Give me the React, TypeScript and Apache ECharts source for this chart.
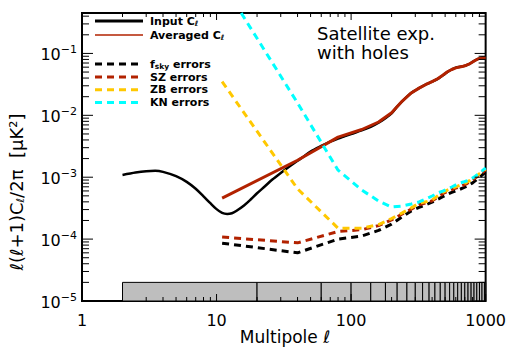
import React, { useEffect, useRef } from "react";
import * as echarts from "echarts";

// ---------------- data ----------------
const inputEll = [2, 2.5, 3, 3.5, 4, 5, 6, 7, 8, 9, 10, 11, 12, 13, 14, 16, 18, 20, 23, 26, 30, 35, 40, 45, 50, 60, 70, 80, 90, 100, 120, 140, 160, 180, 200, 220, 250, 280, 320, 360, 400, 450, 500, 550, 600, 650, 700, 750, 800, 850, 900, 950, 1000];
const inputCl = [1.09e-3, 1.19e-3, 1.25e-3, 1.27e-3, 1.22e-3, 1.04e-3, 8.4e-4, 6.5e-4, 4.9e-4, 3.8e-4, 3.05e-4, 2.65e-4, 2.55e-4, 2.62e-4, 2.85e-4, 3.5e-4, 4.4e-4, 5.5e-4, 7.2e-4, 9.2e-4, 1.17e-3, 1.5e-3, 1.85e-3, 2.2e-3, 2.6e-3, 3.2e-3, 3.75e-3, 4.2e-3, 4.6e-3, 5.0e-3, 5.7e-3, 6.5e-3, 7.6e-3, 9.0e-3, 1.08e-2, 1.38e-2, 1.85e-2, 2.3e-2, 2.75e-2, 3.15e-2, 3.5e-2, 4.0e-2, 4.7e-2, 5.4e-2, 5.9e-2, 6.1e-2, 6.3e-2, 6.7e-2, 7.3e-2, 7.9e-2, 8.3e-2, 8.6e-2, 8.5e-2];

const binCenters = [11, 40, 80, 120, 160, 200, 240, 280, 320, 360, 400, 440, 480, 520, 560, 600, 640, 680, 720, 760, 800, 840, 880, 920, 960, 1000];
const averagedCl = [4.6e-4, 1.88e-3, 4.45e-3, 5.9e-3, 7.8e-3, 1.1e-2, 1.7e-2, 2.3e-2, 2.75e-2, 3.15e-2, 3.5e-2, 3.9e-2, 4.45e-2, 5.05e-2, 5.5e-2, 5.85e-2, 6.05e-2, 6.2e-2, 6.45e-2, 6.8e-2, 7.25e-2, 7.75e-2, 8.15e-2, 8.4e-2, 8.5e-2, 8.45e-2];
const fskyErr = [8.6e-5, 6.0e-5, 1.0e-4, 1.12e-4, 1.38e-4, 1.75e-4, 2.3e-4, 2.85e-4, 3.25e-4, 3.6e-4, 3.95e-4, 4.4e-4, 4.85e-4, 5.3e-4, 5.7e-4, 6.0e-4, 6.35e-4, 6.7e-4, 7.1e-4, 7.6e-4, 8.1e-4, 8.8e-4, 9.6e-4, 1.04e-3, 1.12e-3, 1.22e-3];
const szErr = [1.08e-4, 8.7e-5, 1.33e-4, 1.42e-4, 1.65e-4, 2.05e-4, 2.55e-4, 3.05e-4, 3.6e-4, 3.85e-4, 4.15e-4, 4.75e-4, 5.4e-4, 5.9e-4, 6.3e-4, 6.65e-4, 7.0e-4, 7.4e-4, 7.8e-4, 8.4e-4, 9.1e-4, 9.8e-4, 1.05e-3, 1.13e-3, 1.22e-3, 1.32e-3];
const zbErr = [3.5e-2, 6.5e-4, 1.5e-4, 1.5e-4, 1.72e-4, 2.15e-4, 2.65e-4, 3.2e-4, 3.8e-4, 4.0e-4, 4.3e-4, 5.0e-4, 5.7e-4, 6.2e-4, 6.6e-4, 7.0e-4, 7.4e-4, 7.8e-4, 8.2e-4, 8.8e-4, 9.6e-4, 1.03e-3, 1.1e-3, 1.18e-3, 1.27e-3, 1.36e-3];
const knErr = [1.4, 1.58e-2, 1.3e-3, 6.2e-4, 4.13e-4, 3.3e-4, 3.43e-4, 3.69e-4, 3.98e-4, 4.45e-4, 4.97e-4, 5.56e-4, 5.98e-4, 6.45e-4, 6.95e-4, 7.5e-4, 8.05e-4, 8.35e-4, 8.7e-4, 9.0e-4, 9.7e-4, 1.04e-3, 1.13e-3, 1.21e-3, 1.31e-3, 1.41e-3];

const binEdges = [2, 20, 60, 100, 140, 180, 220, 260, 300, 340, 380, 420, 460, 500, 540, 580, 620, 660, 700, 740, 780, 820, 860, 900, 940, 980, 1000];
const maskBandLow = 1e-5;
const maskBandHigh = 2e-5;

const xMajorTicks = [1, 10, 100, 1000];
const xMinorTicks = [2, 3, 4, 5, 6, 7, 8, 9, 20, 30, 40, 50, 60, 70, 80, 90, 200, 300, 400, 500, 600, 700, 800, 900];
const yMajorTicks = [1e-5, 1e-4, 1e-3, 1e-2, 1e-1];
const yMinorTicks = [
  2e-5, 3e-5, 4e-5, 5e-5, 6e-5, 7e-5, 8e-5, 9e-5,
  2e-4, 3e-4, 4e-4, 5e-4, 6e-4, 7e-4, 8e-4, 9e-4,
  2e-3, 3e-3, 4e-3, 5e-3, 6e-3, 7e-3, 8e-3, 9e-3,
  2e-2, 3e-2, 4e-2, 5e-2, 6e-2, 7e-2, 8e-2, 9e-2,
  2e-1, 3e-1, 4e-1,
];
const xTickLabels = ["1", "10", "100", "1000"];

const RED = "#b22200";
const YEL = "#ffc800";
const CYA = "#00ffff";
const FONT = "DejaVu Sans";

function zip(xs: number[], ys: number[]) {
  return xs.map((x, i) => [x, ys[i]]);
}

export default function App() {
  const ref = useRef<HTMLDivElement>(null);
  useEffect(() => {
    if (!ref.current) return;
    const chart = echarts.init(ref.current, null, { renderer: "svg" });

    const dashed = (name: string, data: number[], color: string, z: number) => ({
      name,
      type: "line",
      data: zip(binCenters, data),
      showSymbol: false,
      symbol: "none",
      z,
      lineStyle: { color, width: 3, type: [7, 5] },
    });

    const tickRenderX = (params: any, api: any) => {
      const v = api.value(0);
      const major = api.value(2);
      const p = api.coord([v, 1e-3]);
      const cs = params.coordSys;
      const len = major ? 7 : 4;
      const b = cs.y + cs.height;
      return {
        type: "group",
        children: [
          { type: "line", shape: { x1: p[0], y1: b, x2: p[0], y2: b - len }, style: { stroke: "#000", lineWidth: 1 } },
          { type: "line", shape: { x1: p[0], y1: cs.y, x2: p[0], y2: cs.y + len }, style: { stroke: "#000", lineWidth: 1 } },
        ],
      };
    };
    const tickRenderY = (params: any, api: any) => {
      const v = api.value(1);
      const major = api.value(2);
      const p = api.coord([10, v]);
      const cs = params.coordSys;
      const len = major ? 11 : 7;
      const r = cs.x + cs.width;
      return {
        type: "group",
        children: [
          { type: "line", shape: { x1: cs.x, y1: p[1], x2: cs.x + len, y2: p[1] }, style: { stroke: "#000", lineWidth: 1 } },
          { type: "line", shape: { x1: r, y1: p[1], x2: r - len, y2: p[1] }, style: { stroke: "#000", lineWidth: 1 } },
        ],
      };
    };

    const xTickData = [...xMajorTicks.map((v) => [v, 1e-3, 1]), ...xMinorTicks.map((v) => [v, 1e-3, 0])];
    const yTickData = [...yMajorTicks.map((v) => [10, v, 1]), ...yMinorTicks.map((v) => [10, v, 0])];
    const binData = binEdges.slice(0, -1).map((lo, i) => [lo, binEdges[i + 1], maskBandLow, maskBandHigh]);

    const legendItems = [
      { y: 21, color: "#000", width: 3, dash: null as any, rich: "{a|Input C}{s|ℓ}" },
      { y: 35, color: RED, width: 1.5, dash: null as any, rich: "{a|Averaged C}{s|ℓ}" },
      { y: 64, color: "#000", width: 3, dash: [7, 5], rich: "{a|f}{s|sky}{a| errors}" },
      { y: 77, color: RED, width: 3, dash: [7, 5], rich: "{a|SZ errors}" },
      { y: 89.8, color: YEL, width: 3, dash: [7, 5], rich: "{a|ZB errors}" },
      { y: 102.6, color: CYA, width: 3, dash: [7, 5], rich: "{a|KN errors}" },
    ];
    const legendRich = {
      a: { fontSize: 11, lineHeight: 11, fontWeight: "bold", fontFamily: FONT, color: "#000" },
      s: { fontSize: 7.5, lineHeight: 8, fontWeight: "bold", fontFamily: FONT, color: "#000", padding: [5, 0, 0, 0] },
    };

    const graphic: any[] = [];
    legendItems.forEach((it) => {
      graphic.push({
        type: "line",
        z: 100,
        shape: { x1: 95, y1: it.y, x2: 143, y2: it.y },
        style: { stroke: it.color, lineWidth: it.width, lineDash: it.dash || undefined },
      });
      graphic.push({
        type: "text",
        z: 100,
        x: 150,
        y: it.y,
        style: { text: it.rich, rich: legendRich, verticalAlign: "middle", textVerticalAlign: "middle", fill: "#000" },
      });
    });
    graphic.push({
      type: "text",
      x: 317,
      y: 33,
      style: { text: "Satellite exp.", fontSize: 18, fontFamily: FONT, fill: "#000", verticalAlign: "middle", textVerticalAlign: "middle" },
    });
    graphic.push({
      type: "text",
      x: 317,
      y: 52,
      style: { text: "with holes", fontSize: 18, fontFamily: FONT, fill: "#000", verticalAlign: "middle", textVerticalAlign: "middle" },
    });
    graphic.push({
      type: "text",
      x: 285,
      y: 337,
      style: { text: "Multipole ℓ", fontSize: 17, lineHeight: 17, fontFamily: FONT, fill: "#000", align: "center", verticalAlign: "middle", textAlign: "center", textVerticalAlign: "middle" },
    });
    graphic.push({
      type: "text",
      x: 16,
      y: 192,
      rotation: Math.PI / 2,
      style: {
        text: "{a|ℓ(ℓ+1)C}{s|ℓ}{a|/2π  [μK²]}",
        rich: {
          a: { fontSize: 18, fontFamily: FONT, color: "#000" },
          s: { fontSize: 11, fontFamily: FONT, color: "#000", padding: [8, 0, 0, 0] },
        },
        align: "center",
        verticalAlign: "middle",
        textAlign: "center",
        textVerticalAlign: "middle",
      },
    });

    const option: any = {
      animation: false,
      textStyle: { fontFamily: FONT },
      grid: { left: 82, right: 21, top: 13, bottom: 46, show: true, borderColor: "#000", borderWidth: 2, backgroundColor: "transparent" },
      xAxis: {
        type: "log",
        logBase: 10,
        min: 1,
        max: 1000,
        splitNumber: 3,
        axisLine: { show: false },
        axisTick: { show: false },
        splitLine: { show: false },
        axisLabel: {
          fontSize: 16,
          color: "#000",
          margin: 11,
          fontFamily: FONT,
          formatter: (v: number) => {
            const e = Math.log10(v);
            const r = Math.round(e);
            if (Math.abs(e - r) > 0.01) return "";
            return xTickLabels[r] ?? "";
          },
        },
      },
      yAxis: {
        type: "log",
        logBase: 10,
        min: 1e-5,
        max: 0.45,
        axisLine: { show: false },
        axisTick: { show: false },
        splitLine: { show: false },
        axisLabel: {
          margin: 5,
          formatter: (v: number) => {
            const e = Math.log10(v);
            const r = Math.round(e);
            if (Math.abs(e - r) > 0.01) return "";
            return `{b|10}{s|−${Math.abs(r)}}`;
          },
          rich: {
            b: { fontSize: 16, fontFamily: FONT, color: "#000", lineHeight: 16, verticalAlign: "bottom" },
            s: { fontSize: 11, fontFamily: FONT, color: "#000", padding: [0, 0, 8, 0], verticalAlign: "bottom" },
          },
        },
      },
      series: [
        {
          type: "custom",
          z: 1,
          data: binData,
          encode: { x: [0, 1], y: [2, 3] },
          renderItem: (params: any, api: any) => {
            const p1 = api.coord([api.value(0), api.value(2)]);
            const p2 = api.coord([api.value(1), api.value(3)]);
            return {
              type: "rect",
              shape: { x: p1[0], y: p2[1], width: p2[0] - p1[0], height: p1[1] - p2[1] },
              style: { fill: "#bebebe", stroke: "#000", lineWidth: 1 },
            };
          },
        },
        {
          name: "Input",
          type: "line",
          z: 3,
          data: zip(inputEll, inputCl),
          showSymbol: false,
          symbol: "none",
          smooth: 0.3,
          lineStyle: { color: "#000", width: 2.5 },
        },
        {
          name: "Averaged",
          type: "line",
          z: 4,
          data: zip(binCenters, averagedCl),
          showSymbol: false,
          symbol: "none",
          lineStyle: { color: RED, width: 3 },
        },
        dashed("fsky", fskyErr, "#000", 5),
        dashed("SZ", szErr, RED, 6),
        dashed("ZB", zbErr, YEL, 7),
        dashed("KN", knErr, CYA, 8),
        { type: "custom", z: 20, data: xTickData, encode: { x: 0, y: 1 }, renderItem: tickRenderX },
        { type: "custom", z: 20, data: yTickData, encode: { x: 0, y: 1 }, renderItem: tickRenderY },
      ],
      graphic,
    };
    chart.setOption(option);
    return () => chart.dispose();
  }, []);
  return <div ref={ref} style={{ width: 509, height: 347, position: "absolute", left: 0, top: 0, background: "#fff" }} />;
}
